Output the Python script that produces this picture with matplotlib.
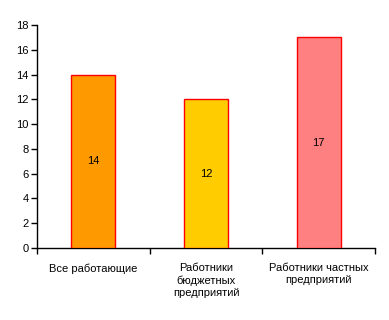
import matplotlib
matplotlib.use("Agg")
import matplotlib.pyplot as plt
from matplotlib.ticker import FixedLocator

categories = ["Все работающие", "Работники\nбюджетных\nпредприятий", "Работники частных\nпредприятий"]
values = [14, 12, 17]
colors = ["#FF9900", "#FFCC00", "#FF8080"]
yticks = [0, 2, 4, 6, 8, 10, 12, 14, 16, 18]

plt.rcParams['font.family'] = ['Liberation Sans', 'DejaVu Sans']
fig = plt.figure(figsize=(3.89, 3.20), dpi=100)
ax = fig.add_axes([0.0951, 0.225, 0.869, 0.697])

x = list(range(len(values)))
bars = ax.bar(x - 0.0 if False else x, values, width=0.39, color=colors, edgecolor="#FF0000", linewidth=1.0, zorder=3)
for xi, v in zip(x, values):
    ax.text(xi, v / 2, str(v), ha="center", va="center", fontsize=8, color="black")

ax.set_xlim(-0.5, 2.5)
ax.set_ylim(0, 18)
ax.set_yticks(yticks)
ax.tick_params(axis="y", labelsize=8, length=4, width=1, direction="out", pad=2)
ax.set_xticks(x)
ax.set_xticklabels(categories, fontsize=8, linespacing=1.25)
ax.tick_params(axis="x", which="major", length=0, pad=11)
ax.xaxis.set_minor_locator(FixedLocator([-0.5, 0.5, 1.5, 2.5]))
ax.tick_params(axis="x", which="minor", length=4, width=1, direction="out")
for s in ["top", "right"]:
    ax.spines[s].set_visible(False)
for s in ["left", "bottom"]:
    ax.spines[s].set_linewidth(1.0)
fig.savefig("out.png", dpi=100)
